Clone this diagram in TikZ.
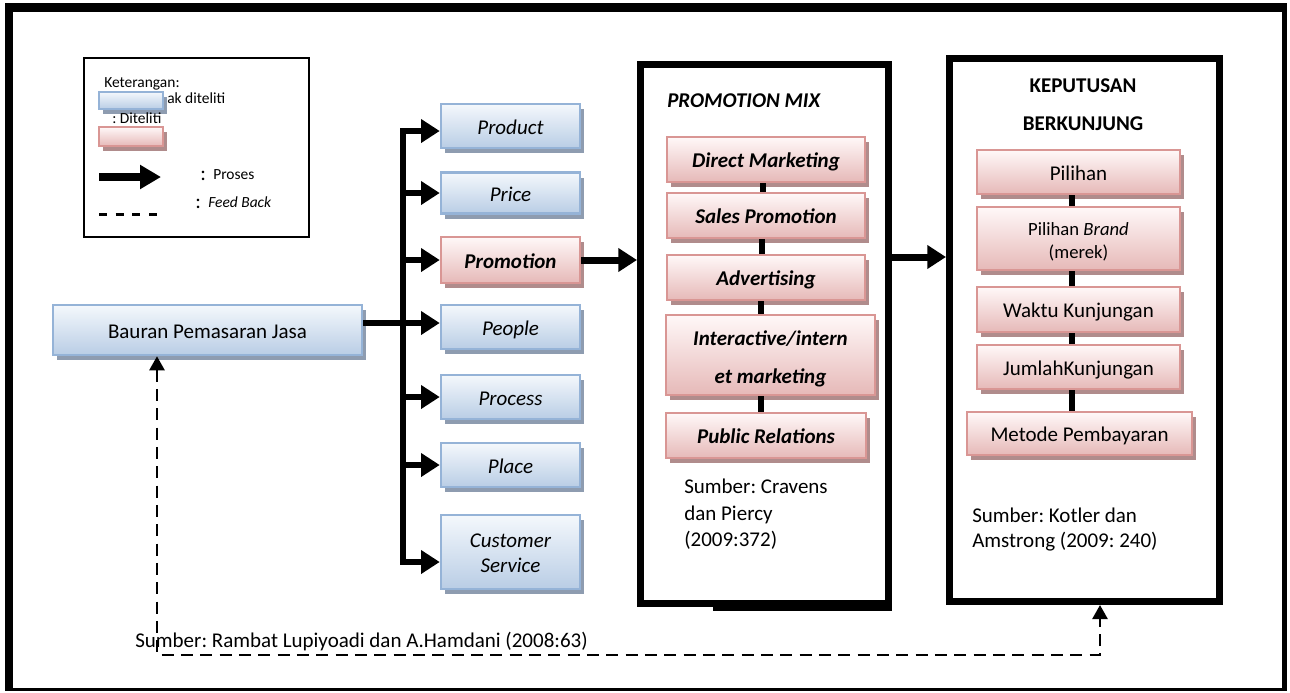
\documentclass[tikz,border=0pt]{standalone}
\usepackage{fontspec}
\setmainfont{Carlito}
\usetikzlibrary{arrows.meta,shadows}
\frenchspacing

\definecolor{bluetop}{HTML}{F4F8FC}
\definecolor{bluebot}{HTML}{B9CDE5}
\definecolor{blueline}{HTML}{95B3D7}
\definecolor{blueshade}{HTML}{8E9CB0}
\definecolor{redtop}{HTML}{FFF8F8}
\definecolor{redbot}{HTML}{E6B9B8}
\definecolor{redline}{HTML}{D99694}
\definecolor{redshade}{HTML}{B08C8C}

\newcommand\fmain{\fontsize{15.75pt}{18.75pt}\selectfont}
\newcommand\flegend{\fontsize{11.6pt}{14pt}\selectfont}
\newcommand\fbrand{\fontsize{14pt}{17.25pt}\selectfont}

\tikzset{
  sz/.style 2 args={minimum width=#1*0.75pt, minimum height=#2*0.75pt},
  boxbase/.style={draw, line width=1.9pt, inner sep=0pt, font=\fmain,
    text height=12pt, text depth=0pt},
  bluebox/.style={boxbase, draw=blueline, top color=bluetop, bottom color=bluebot,
    drop shadow={shadow xshift=3pt, shadow yshift=-3.75pt, fill=blueshade, opacity=1}},
  redbox/.style={boxbase, draw=redline, top color=redtop, bottom color=redbot,
    drop shadow={shadow xshift=3pt, shadow yshift=-3.75pt, fill=redshade, opacity=1}},
  bigframe/.style={draw, line width=5.25pt, fill=white, inner sep=0pt},
  proc/.style={line width=4.5pt, -{Triangle[length=14pt,width=17pt]}},
  joinbar/.style={line width=4.5pt},
  fb/.style={line width=1.9pt, dash pattern=on 9pt off 5.5pt,
    {Triangle[length=10.5pt,width=11.25pt]}-{Triangle[length=10.5pt,width=11.25pt]}},
  txt/.style={inner sep=0pt, font=\fmain},
}

\begin{document}
\begin{tikzpicture}[x=0.75pt,y=-0.75pt]
\useasboundingbox (0,0) rectangle (1290,693);
\fill[white] (0,0) rectangle (1290,693);

% outer page frame (heavy top, left and right edges, thin bottom)
\fill (5,3) rectangle (1287,12);
\fill (5,3) rectangle (13,691);
\fill (1282,3) rectangle (1287,691);
\fill (5,688) rectangle (1287,691);

% ---------- legend ----------
\node[draw, line width=1.5pt, sz={225}{179}, inner sep=0pt] (legend) at (196.5,147.5) {};
\node[anchor=base west, inner sep=0pt, font=\flegend] (tket) at (104,87) {Keterangan:};
\node[bluebox, line width=1.5pt, sz={64}{17}] (lblue) at (131,100.5) {};
\node[anchor=base west, inner sep=0pt, font=\flegend] (tblue) at (167,103) {ak diteliti};
\node[anchor=base west, inner sep=0pt, font=\flegend] (tred) at (112,123) {: Diteliti};
\node[redbox, line width=1.5pt, sz={64}{19}] (lred) at (131,136.5) {};
\coordinate (la1) at (99,177);
\coordinate (la2) at (161,177);
\draw[line width=6pt, -{Triangle[length=15.75pt,width=17.25pt]}] (la1) -- (la2);
\node[anchor=base west, txt] (c1) at (200,180) {:};
\node[anchor=base west, inner sep=0pt, font=\flegend] (tproses) at (213,179) {Proses};
\node[anchor=base west, txt] (c2) at (195,208) {:};
\node[anchor=base west, inner sep=0pt, font=\flegend\itshape] (tfb) at (208,207) {Feed Back};
\coordinate (ld1) at (99,214);
\coordinate (ld2) at (161,214);
\draw[line width=2.25pt, dash pattern=on 6pt off 6.5pt] (ld1) -- (ld2);

% ---------- service marketing mix ----------
\node[bluebox, sz={309}{50}] (bauran) at (207.5,330) {Bauran Pemasaran Jasa};

\node[bluebox, sz={139}{44}] (product) at (510.5,126) {\itshape Product};
\node[bluebox, sz={139}{41}] (price) at (510.5,193) {\itshape Price};
\node[redbox, sz={139}{46}] (promotion) at (510.5,260) {\bfseries\itshape Promotion};
\node[bluebox, sz={139}{44}] (people) at (510.5,327) {\itshape People};
\node[bluebox, sz={139}{44}] (process) at (510.5,397) {\itshape Process};
\node[bluebox, sz={139}{44}] (place) at (510.5,465) {\itshape Place};
\node[bluebox, sz={139}{74}, align=center, text height=30pt, text depth=0pt] (cs) at (510.5,552)
  {\itshape Customer\\\itshape Service};

% distribution bus
\coordinate (busTop) at (403,131);
\coordinate (busBot) at (403,562);
\coordinate (pj) at (403,323);
\draw[proc] (busBot) -- (busTop) -- (busTop -| product.west);
\draw[proc, line cap=rect] (busBot) -- (busBot -| cs.west);
\draw[proc] (price.west -| busTop) -- (price.west);
\draw[proc] (promotion.west -| busTop) -- (promotion.west);
\draw[proc] (process.west -| busTop) -- (process.west);
\draw[proc] (place.west -| busTop) -- (place.west);
\draw[proc] (pj -| bauran.east) -- (pj -| people.west);

% ---------- promotion mix ----------
\node[bigframe, sz={248}{539}] (pmix) at (764.5,334) {};
\fill (713,603) rectangle (892,611);
\node[anchor=base west, txt, font=\fmain\bfseries\itshape] (tpmix) at (667,107) {PROMOTION MIX};

\node[redbox, sz={198}{45}] (dm) at (766,159.5) {\bfseries\itshape Direct Marketing};
\node[redbox, sz={198}{45}] (sp) at (766,215.5) {\bfseries\itshape Sales Promotion};
\node[redbox, sz={198}{45}] (adv) at (766,277.5) {\bfseries\itshape Advertising};
\node[redbox, sz={209}{80}, align=center, font=\fontsize{15.75pt}{28.5pt}\selectfont,
  text height=42pt, text depth=0pt] (inter) at (770.5,355)
  {\bfseries\itshape Interactive/intern\\\bfseries\itshape et marketing};
\node[redbox, sz={200}{45}] (pr) at (766,435.5) {\bfseries\itshape Public Relations};

\draw[joinbar] ([xshift=-2.25pt]dm.south) -- ([xshift=-2.25pt]sp.north);
\draw[joinbar] ([xshift=-3pt]sp.south) -- ([xshift=-3pt]adv.north);
\draw[joinbar] ([xshift=-4pt]adv.south) -- ([xshift=-4pt]adv.south |- inter.north);
\draw[joinbar] ([xshift=-7.4pt]inter.south) -- ([xshift=-7.4pt]inter.south |- pr.north);

\node[anchor=north west, txt, align=left, font=\fontsize{15.75pt}{20pt}\selectfont] (srcpm) at (684,478.5)
  {Sumber: Cravens\\dan Piercy\\(2009:372)};

\draw[proc, line width=5.25pt] (promotion.east) -- (promotion.east -| pmix.west);

% ---------- visiting decision ----------
\node[bigframe, sz={270}{543}] (kep) at (1084.5,330) {};
\node[anchor=base, txt, font=\fmain\bfseries] (tkep1) at (1083,92) {KEPUTUSAN};
\node[anchor=base, txt, font=\fmain\bfseries] (tkep2) at (1083,130) {BERKUNJUNG};

\node[redbox, sz={203}{44}] (pil) at (1078.5,172) {Pilihan};
\node[redbox, sz={203}{63}, align=center, font=\fbrand, text height=29.25pt, text depth=0pt] (brand) at (1078.5,238.5)
  {Pilihan \textit{Brand}\\(merek)};
\node[redbox, sz={203}{45}] (waktu) at (1078.5,309.5) {Waktu Kunjungan};
\node[redbox, sz={203}{44}] (jumlah) at (1078.5,367) {JumlahKunjungan};
\node[redbox, sz={225}{43}] (metode) at (1079.5,433.5) {Metode Pembayaran};

\draw[joinbar] ([xshift=-5.25pt]pil.south) -- ([xshift=-5.25pt]brand.north);
\draw[joinbar] ([xshift=-5.25pt]brand.south) -- ([xshift=-5.25pt]waktu.north);
\draw[joinbar] ([xshift=-5.25pt]waktu.south) -- ([xshift=-5.25pt]jumlah.north);
\draw[joinbar] ([xshift=-5.25pt]jumlah.south) -- ([xshift=-5.25pt]jumlah.south |- metode.north);

\node[anchor=north west, txt, align=left, font=\fontsize{15.75pt}{18.75pt}\selectfont] (srckep) at (972,507.5)
  {Sumber: Kotler dan\\Amstrong (2009: 240)};

\coordinate (mk) at (0,257);
\draw[proc, line width=5.25pt] (mk -| pmix.east) -- (mk -| kep.west);

% ---------- feedback loop ----------
\node[anchor=base west, txt] (srcall) at (135,647) {Sumber: Rambat Lupiyoadi dan A.Hamdani (2008:63)};
\coordinate (fbl) at (157,655);
\coordinate (fbr) at (1100,655);
\draw[fb] (fbl |- bauran.south) -- (fbl) -- (fbr) -- (fbr |- kep.south);
\end{tikzpicture}
\end{document}
